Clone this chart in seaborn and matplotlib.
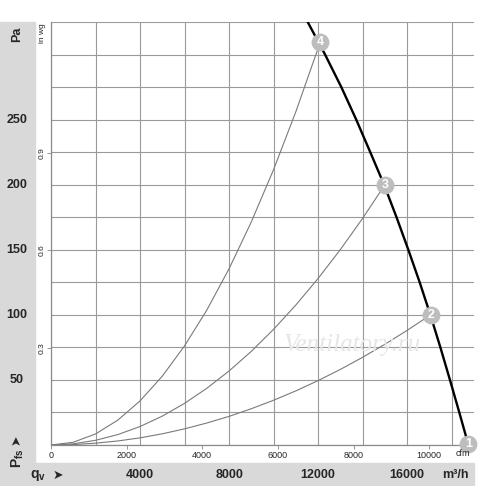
import numpy as np
import matplotlib
matplotlib.use("Agg")
import matplotlib.pyplot as plt
import seaborn as sns
from matplotlib.patches import Rectangle

# fan curve, Pa against m3/h
fan_q = [11530, 12310, 13040, 13710, 14340, 14960, 15520, 16050, 16560, 17040, 17490, 17920, 18340, 18750]
fan_p = [325, 300, 275, 250, 225, 200, 175, 150, 125, 100, 75, 50, 25, 0]

# system curves 4, 3, 2 (read every 1000 m3/h)
sys4_q = [0, 1000, 2000, 3000, 4000, 5000, 6000, 7000, 8000, 9000, 10000, 11000, 12000, 12100]
sys4_p = [0, 2.1, 8.5, 19.1, 33.9, 52.9, 76.2, 103.7, 135.5, 171.5, 211.7, 256.2, 304.9, 310]
sys3_q = [0, 1000, 2000, 3000, 4000, 5000, 6000, 7000, 8000, 9000, 10000, 11000, 12000, 13000, 14000, 15000]
sys3_p = [0, 0.9, 3.6, 8.0, 14.2, 22.2, 32.0, 43.6, 56.9, 72.0, 88.9, 107.6, 128.0, 150.2, 174.2, 200]
sys2_q = [0, 1000, 2000, 3000, 4000, 5000, 6000, 7000, 8000, 9000, 10000, 11000, 12000, 13000, 14000, 15000, 16000, 17050]
sys2_p = [0, 0.3, 1.4, 3.1, 5.5, 8.6, 12.4, 16.9, 22.0, 27.9, 34.4, 41.6, 49.5, 58.1, 67.4, 77.4, 88.1, 100]

# operating points
op_labels = ["1", "2", "3", "4"]
op_q = [18750, 17050, 15000, 12100]
op_p = [1, 100, 200, 310]

pa_ticks = [50, 100, 150, 200, 250]
m3h_ticks = [4000, 8000, 12000, 16000]
cfm_ticks = [0, 2000, 4000, 6000, 8000, 10000]
inwg_ticks = [0.3, 0.6, 0.9]

sns.set_style("white")
plt.rcParams['font.family'] = ['Liberation Sans', 'DejaVu Sans']
plt.rcParams['mathtext.fontset'] = 'custom'
plt.rcParams['mathtext.bf'] = 'Liberation Sans:bold'
plt.rcParams['mathtext.rm'] = 'Liberation Sans'

W, H = 500, 486
fig = plt.figure(figsize=(W / 100, H / 100), dpi=100)
band = '#d9d9d9'
fig.patches.append(Rectangle((0, 0), 35 / W, 1 - 22 / H, transform=fig.transFigure, color=band, zorder=-1))
fig.patches.append(Rectangle((0, 0), 474 / W, 23 / H, transform=fig.transFigure, color=band, zorder=-1))

ax = fig.add_axes([51 / W, 41 / H, 423 / W, 423 / H])
ax.set_xlim(0, 19000)
ax.set_ylim(0, 325)
ax.set_xticks(np.arange(0, 19001, 2000))
ax.set_yticks(np.arange(0, 326, 25))
ax.grid(True, color='#9a9a9a', lw=0.8)
ax.tick_params(length=0, labelbottom=False, labelleft=False)
for s in ['top', 'right']:
    ax.spines[s].set_visible(False)
for s in ['left', 'bottom']:
    ax.spines[s].set_color('#8a8a8a')
    ax.spines[s].set_linewidth(0.9)

for q, p in [(sys4_q, sys4_p), (sys3_q, sys3_p), (sys2_q, sys2_p)]:
    sns.lineplot(x=q, y=p, sort=False, estimator=None, color='#7a7a7a', lw=0.8, ax=ax)
sns.lineplot(x=fan_q, y=fan_p, sort=False, estimator=None, color='black', lw=1.7, ax=ax)

ax.scatter(op_q, op_p, s=165, color='#bdbdbd', zorder=5, clip_on=False, linewidths=0)
for lab, q, p in zip(op_labels, op_q, op_p):
    ax.text(q, p, lab, color='white', fontsize=9, fontweight='bold', ha='center', va='center', zorder=6)

# cfm scale along the bottom
sec = ax.secondary_xaxis(0, functions=(lambda q: q / 1.699, lambda c: c * 1.699))
sec.set_xticks(cfm_ticks)
sec.tick_params(direction='out', length=3, width=0.6, color='#888888', labelsize=6.5, pad=1)
sec.spines['bottom'].set_visible(False)
fig.text(463 / W, 1 - 453 / H, 'cfm', fontsize=6.5, ha='center', va='center')

# in wg scale along the left
secy = ax.secondary_yaxis(0, functions=(lambda p: p / 249.09, lambda w: w * 249.09))
secy.set_yticks(inwg_ticks)
secy.tick_params(direction='out', length=3, width=0.6, color='#888888', labelsize=6, pad=1)
secy.spines['left'].set_visible(False)
plt.setp(secy.get_yticklabels(), rotation=90, va='center')
fig.text(43 / W, 1 - 33 / H, 'in wg', fontsize=6, rotation=90, ha='center', va='center')

# bold Pa and m3/h labels in the grey bands
ytr = matplotlib.transforms.blended_transform_factory(fig.transFigure, ax.transData)
for p in pa_ticks:
    ax.text(17 / W, p, str(p), transform=ytr, fontsize=9, fontweight='bold', ha='center', va='center')
xtr = matplotlib.transforms.blended_transform_factory(ax.transData, fig.transFigure)
for q in m3h_ticks:
    ax.text(q, 1 - 475 / H, str(q), transform=xtr, fontsize=9, fontweight='bold', ha='center', va='center')
fig.text(455 / W, 1 - 475 / H, 'm³/h', fontsize=9, fontweight='bold', ha='center', va='center')

fig.text(17 / W, 1 - 34 / H, 'Pa', fontsize=9, fontweight='bold', rotation=90, ha='center', va='center')
fig.text(18 / W, 1 - 458 / H, r'$\mathbf{P}_{\mathbf{fs}}$', fontsize=10, rotation=90, ha='center', va='center')
fig.text(16 / W, 1 - 440 / H, '➤', fontsize=9, rotation=90, ha='center', va='center',
         family=['DejaVu Sans'])
fig.text(38 / W, 1 - 475 / H, r'$\mathbf{q}_{\mathbf{v}}$', fontsize=10, ha='center', va='center')
fig.text(58 / W, 1 - 475 / H, '➤', fontsize=9, ha='center', va='center', family=['DejaVu Sans'])

# watermark
fig.text(352 / W, 1 - 345 / H, 'Ventilatory.ru', fontsize=18, color='#e6e6e6', style='italic',
         family=['Liberation Serif'], ha='center', va='center', zorder=1)

fig.savefig('out.png', dpi=100)
